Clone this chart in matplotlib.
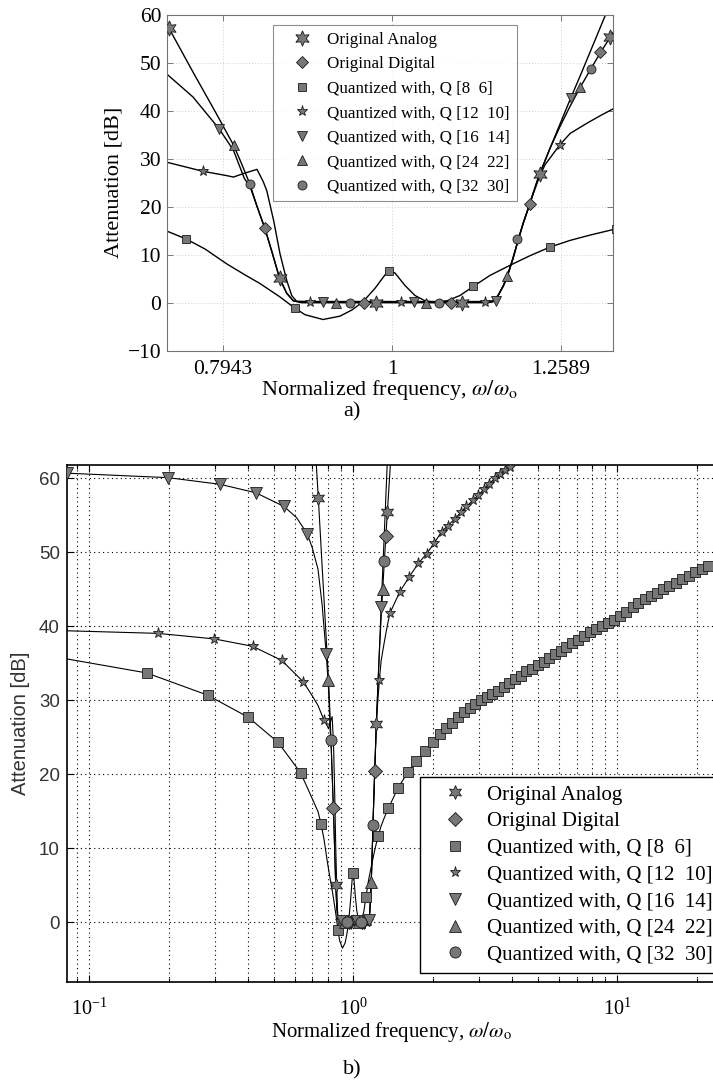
import matplotlib
matplotlib.use('Agg')
import matplotlib.pyplot as plt
from matplotlib.ticker import FixedLocator, FixedFormatter, LogLocator, NullFormatter, MultipleLocator

plt.rcParams['font.family'] = 'Liberation Serif'
plt.rcParams['mathtext.fontset'] = 'stix'

# ---------------- data ----------------
# lines (frequency w/wo, attenuation dB)
# analog / digital / Q[24 22] / Q[32 30] lie on top of each other
f_grp = [0.700, 0.723, 0.7357, 0.7378, 0.7625, 0.7858, 0.806, 0.8149, 0.824, 0.832, 0.841,
         0.8496, 0.858, 0.8663, 0.8742, 0.884, 1.0, 1.140, 1.1476, 1.1554, 1.1637, 1.170,
         1.1793, 1.1878, 1.1955, 1.2043, 1.2119, 1.2225, 1.2319, 1.2402, 1.2574, 1.2747,
         1.2922, 1.3113, 1.3281, 1.3463, 1.3495, 1.383, 1.45]
a_grp = [72.0, 62.5, 58.0, 57.3, 48.1, 39.9, 32.8, 28.9, 24.7, 20.1, 15.5,
         10.3, 5.1, 2.0, 0.4, 0.0, 0.0, 0.0, 0.2, 1.5, 3.5, 5.5,
         9.3, 13.2, 16.5, 19.8, 22.8, 26.8, 29.6, 32.2, 36.8, 41.0,
         44.9, 48.8, 52.1, 55.4, 56.0, 62.0, 72.0]

f_q16 = [0.0823, 0.1985, 0.313, 0.428, 0.547, 0.61, 0.670, 0.70, 0.7357, 0.7625, 0.790,
         0.8057, 0.8178, 0.824, 0.832, 0.841, 0.8496, 0.858, 0.8663, 0.8742, 0.884, 1.0,
         1.140, 1.1476, 1.1554, 1.1637, 1.170, 1.1793, 1.1878, 1.1955, 1.2043, 1.2119,
         1.2225, 1.2402, 1.2747, 1.2922, 1.3113, 1.3281, 1.3372, 1.3495, 1.40]
a_q16 = [60.7, 60.1, 59.2, 58.05, 56.2, 54.7, 52.5, 50.6, 47.7, 42.9, 36.3,
         31.8, 25.9, 24.3, 20.1, 15.5, 10.3, 5.1, 2.0, 0.4, 0.1, 0.1,
         0.1, 0.3, 1.5, 3.5, 5.5, 9.3, 13.2, 16.5, 19.8, 22.8,
         26.8, 32.2, 42.4, 47.3, 52.7, 57.4, 59.9, 63.4, 75.0]

f_q12 = [0.0823, 0.182, 0.298, 0.416, 0.536, 0.647, 0.70, 0.7357, 0.773, 0.7984, 0.8057,
         0.8178, 0.832, 0.8392, 0.8431, 0.851, 0.8585, 0.8663, 0.8723, 0.8781, 0.90, 1.0,
         1.135, 1.1476, 1.1554, 1.1637, 1.170, 1.1793, 1.1878, 1.1955, 1.2043, 1.2119,
         1.2225, 1.2319, 1.2574, 1.2747, 1.3038, 1.3281, 1.3495, 1.377, 1.502, 1.63,
         1.762, 1.895, 2.02, 2.16, 2.42, 2.68, 2.97, 3.27, 3.59, 3.92, 4.3]
a_q12 = [39.4, 39.05, 38.3, 37.3, 35.4, 32.5, 30.6, 29.3, 27.4, 26.5, 26.2,
         27.0, 27.8, 25.2, 23.4, 17.2, 10.2, 4.7, 1.5, 0.3, 0.25, 0.25,
         0.25, 0.4, 1.5, 3.5, 5.5, 9.3, 13.2, 16.5, 19.8, 22.6,
         26.3, 28.8, 33.0, 35.3, 37.4, 39.0, 40.3, 41.8, 44.7, 46.7,
         48.5, 49.8, 51.2, 52.8, 54.5, 56.2, 57.7, 59.3, 60.6, 61.6, 62.8]

f_q8 = [0.0823, 0.1653, 0.281, 0.401, 0.520, 0.632, 0.68, 0.7357, 0.7553, 0.7751, 0.7984,
        0.8185, 0.8354, 0.8585, 0.8742, 0.8882, 0.9103, 0.9316, 0.9470, 0.9612, 0.9771,
        0.9905, 0.9959, 1.0041, 1.0178, 1.0318, 1.0460, 1.0603, 1.0778, 1.0970, 1.1171,
        1.1429, 1.1743, 1.2067, 1.2402, 1.2747, 1.3097, 1.3495, 1.479, 1.612, 1.864,
        2.238, 2.533, 2.93, 3.39, 3.92, 5.23, 7.0, 9.36, 12.5, 16.7, 21.7, 24.0]
a_q8 = [35.6, 33.7, 30.7, 27.7, 24.3, 20.2, 17.7, 14.95, 13.3, 11.2, 8.1,
        5.8, 4.0, 1.2, -0.9, -2.5, -3.5, -2.8, -1.5, 0.2, 3.0,
        5.8, 6.6, 6.2, 3.6, 1.5, 0.4, 0.1, 0.4, 1.5, 3.4,
        5.7, 7.8, 9.8, 11.6, 13.0, 14.1, 15.2, 18.2, 20.3, 23.1,
        26.2, 28.0, 29.6, 30.9, 32.4, 35.2, 38.1, 40.6, 43.6, 45.8, 48.1, 49.0]

# marker positions
mf_ana = [0.738, 0.858, 0.979, 1.100, 1.223, 1.346]
ma_ana = [57.3, 5.1, 0.0, 0.0, 26.8, 55.4]
mf_dig = [0.841, 0.962, 1.083, 1.207, 1.328]
ma_dig = [15.5, 0.0, 0.0, 20.5, 52.2]
mf_q8 = [0.1653, 0.281, 0.401, 0.520, 0.632, 0.755, 0.876, 0.996, 1.117, 1.240, 1.357,
         1.479, 1.612, 1.734, 1.864, 2.004, 2.124, 2.238, 2.36, 2.49, 2.62, 2.76, 2.90,
         3.05, 3.20, 3.36, 3.53, 3.71, 3.90, 4.10, 4.30, 4.52, 4.75, 5.00, 5.25, 5.52,
         5.80, 6.10, 6.40, 6.75, 7.10, 7.50, 7.90, 8.30, 8.75, 9.20, 9.70, 10.2, 10.8,
         11.4, 12.0, 12.7, 13.4, 14.1, 14.9, 15.7, 16.6, 17.6, 18.6, 19.7, 20.8, 22.0]
ma_q8 = [33.7, 30.7, 27.7, 24.3, 20.2, 13.3, -1.0, 6.6, 3.4, 11.6, 15.4,
         18.2, 20.3, 21.8, 23.1, 24.4, 25.4, 26.2, 27.0, 27.7, 28.4, 29.0, 29.5,
         30.0, 30.4, 30.8, 31.3, 31.8, 32.3, 32.9, 33.3, 33.9, 34.3, 34.8, 35.2, 35.7,
         36.2, 36.7, 37.2, 37.7, 38.2, 38.7, 39.2, 39.6, 40.0, 40.4, 40.9, 41.4, 42.0,
         42.6, 43.1, 43.7, 44.1, 44.5, 45.0, 45.4, 45.9, 46.4, 46.8, 47.3, 47.7, 48.2]
mf_q12 = [0.182, 0.298, 0.416, 0.536, 0.647, 0.773, 0.894, 1.012, 1.135, 1.257, 1.377,
          1.502, 1.63, 1.762, 1.895, 2.02, 2.16, 2.29, 2.42, 2.55, 2.68, 2.84, 2.97,
          3.12, 3.27, 3.44, 3.59, 3.75, 3.92]
ma_q12 = [39.05, 38.3, 37.3, 35.4, 32.5, 27.4, 0.2, 0.2, 0.2, 32.8, 41.8,
          44.7, 46.7, 48.5, 49.8, 51.2, 52.8, 53.5, 54.5, 55.4, 56.2, 57.1, 57.7,
          58.6, 59.3, 60.0, 60.6, 61.1, 61.6]
mf_q16 = [0.0823, 0.1985, 0.313, 0.428, 0.547, 0.670, 0.790, 0.910, 1.030, 1.152, 1.276]
ma_q16 = [60.7, 60.1, 59.2, 58.05, 56.2, 52.5, 36.2, 0.2, 0.2, 0.3, 42.6]
mf_q24 = [0.806, 0.927, 1.047, 1.170, 1.292]
ma_q24 = [32.8, 0.0, 0.0, 5.5, 45.0]
mf_q32 = [0.824, 0.944, 1.066, 1.186, 1.311]
ma_q32 = [24.7, 0.0, 0.0, 13.2, 48.8]

labels = ['Original Analog', 'Original Digital', 'Quantized with, Q [8  6]',
          'Quantized with, Q [12  10]', 'Quantized with, Q [16  14]',
          'Quantized with, Q [24  22]', 'Quantized with, Q [32  30]']
markers = [(6, 1, 0), 'D', 's', '*', 'v', '^', 'o']
mk_f = [mf_ana, mf_dig, mf_q8, mf_q12, mf_q16, mf_q24, mf_q32]
mk_a = [ma_ana, ma_dig, ma_q8, ma_q12, ma_q16, ma_q24, ma_q32]

FACE = '#777777'
xlab = 'Normalized frequency, $\\omega/\\omega_{\\mathrm{o}}$'


def draw(ax, sizes, lw):
    for f, a in [(f_q8, a_q8), (f_q12, a_q12), (f_q16, a_q16), (f_grp, a_grp)]:
        ax.plot(f, a, color='k', lw=lw, zorder=2)
    for lab, m, f, a, s in zip(labels, markers, mk_f, mk_a, sizes):
        ax.plot(f, a, linestyle='none', marker=m, ms=s, mfc=FACE, mec='#1a1a1a',
                mew=0.6, label=lab, zorder=3)


fig = plt.figure(figsize=(7.13, 10.84), dpi=100)

# ---------------- a) zoom on pass band ----------------
ax1 = fig.add_axes([0.2338, 0.6765, 0.6255, 0.3097])
draw(ax1, [11, 6.5, 5.8, 8, 7, 7, 6.5], 1.0)
ax1.set_xscale('log')
ax1.set_xlim(0.7357, 1.3507)
ax1.set_ylim(-10, 60)
ax1.xaxis.set_major_locator(FixedLocator([0.7943, 1.0, 1.2589]))
ax1.xaxis.set_major_formatter(FixedFormatter(['0.7943', '1', '1.2589']))
ax1.xaxis.set_minor_locator(FixedLocator([]))
ax1.yaxis.set_major_locator(MultipleLocator(10))
ax1.tick_params(direction='in', top=True, right=True, length=4, width=0.6,
                color='0.4', labelsize=15.5)
ax1.tick_params(axis='x', pad=7)
ax1.tick_params(axis='y', pad=4)
ax1.grid(True, color='0.82', linestyle=(0, (1, 2)), lw=0.7)
for s in ax1.spines.values():
    s.set_color('0.45')
    s.set_linewidth(0.8)
ax1.set_xlabel(xlab, fontsize=16, labelpad=-1)
ax1.set_ylabel('Attenuation [dB]', fontsize=16, labelpad=3)
leg1 = ax1.legend(loc='upper left', bbox_to_anchor=(0.2383, 0.970), fontsize=12.2,
                  frameon=True, fancybox=False, borderaxespad=0, borderpad=0.4,
                  handlelength=2.6, handletextpad=0.2, labelspacing=0.5)
leg1.get_frame().set_edgecolor('0.45')
leg1.get_frame().set_linewidth(0.8)

# ---------------- b) full range ----------------
ax2 = fig.add_axes([0.0935, 0.0941, 0.9114, 0.4769])
draw(ax2, [10, 7, 7.8, 8, 8.5, 8.5, 8], 0.8)
ax2.set_xscale('log')
ax2.set_xlim(0.0823, 23.7)
ax2.set_ylim(-8.07, 61.8)
ax2.xaxis.set_major_locator(LogLocator(base=10))
ax2.xaxis.set_minor_locator(LogLocator(base=10, subs=[2, 3, 4, 5, 6, 7, 8, 9]))
ax2.xaxis.set_minor_formatter(NullFormatter())
ax2.yaxis.set_major_locator(FixedLocator([0, 10, 20, 30, 40, 50, 60]))
ax2.tick_params(which='both', direction='in', top=True, right=False, width=0.8)
ax2.tick_params(which='major', length=5)
ax2.tick_params(which='minor', length=3)
ax2.tick_params(axis='x', labelsize=14.5, pad=12)
ax2.tick_params(axis='y', labelsize=13.5, pad=5, labelcolor='#333333')
for t in ax2.get_yticklabels():
    t.set_family('Liberation Sans')
ax2.grid(True, which='major', color='k', linestyle=(0, (1, 3)), lw=0.8)
ax2.grid(True, which='minor', axis='x', color='k', linestyle=(0, (1, 3)), lw=0.8)
ax2.spines['right'].set_visible(False)
for k in ['left', 'top', 'bottom']:
    ax2.spines[k].set_linewidth(1.2)
ax2.set_xlabel(xlab, fontsize=15, labelpad=0)
ax2.set_ylabel('Attenuation [dB]', fontsize=14.5, labelpad=6, family='Liberation Sans',
               color='#333333')
leg2 = ax2.legend(loc='upper left', bbox_to_anchor=(420 / 713, 1 - 776.7 / 1084),
                  bbox_transform=fig.transFigure, fontsize=15, frameon=True,
                  fancybox=False, borderaxespad=0, borderpad=0.4, handlelength=2.6,
                  handletextpad=0.2, labelspacing=0.34, framealpha=1)
leg2.get_frame().set_edgecolor('k')
leg2.get_frame().set_linewidth(1.0)

fig.text(352 / 713, 1 - 412 / 1084, 'a)', ha='center', va='center', fontsize=16)
fig.text(352 / 713, 1 - 1070 / 1084, 'b)', ha='center', va='center', fontsize=16)

fig.savefig('out.png', dpi=100)
